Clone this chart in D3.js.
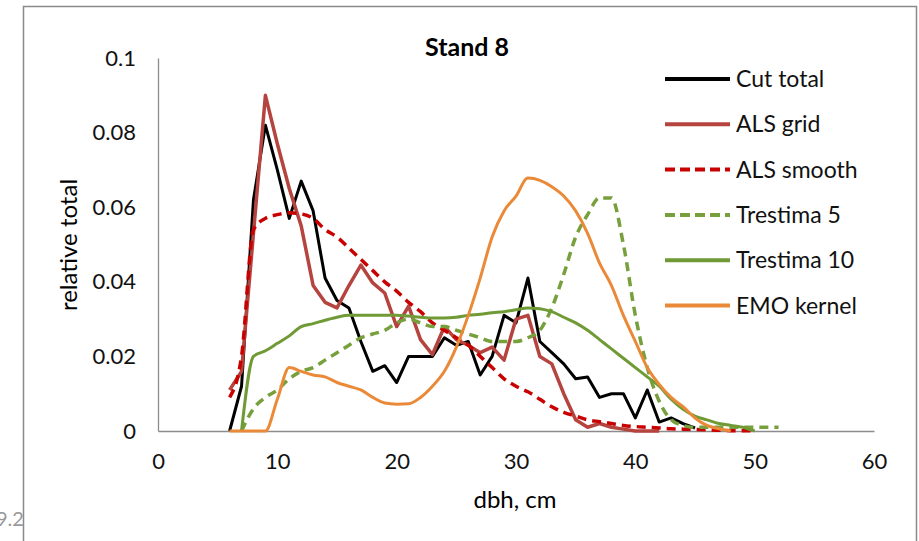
<!DOCTYPE html>
<html lang="en">
<head>
    <meta charset="UTF-8">
    <title>Stand 8</title>
    <script src="https://d3js.org/d3.v7.min.js"></script>
    <style>
        body { margin: 0; background: #fff; }
        svg { display: block; font-family: Lato, 'Open Sans', sans-serif; }
    </style>
</head>
<body>
    <svg id="chart" width="919" height="541"></svg>
    <script>
        // values read per 1 cm dbh class, first value at the given start dbh
        const cutTotalStart = 6;
        const cutTotal = [0, 0.012, 0.062, 0.082, 0.07, 0.057, 0.067, 0.059, 0.041, 0.035,
            0.033, 0.024, 0.016, 0.0175, 0.013, 0.02, 0.02, 0.02, 0.025, 0.023,
            0.024, 0.015, 0.02, 0.031, 0.029, 0.041, 0.024, 0.021, 0.018, 0.014,
            0.0145, 0.009, 0.01, 0.01, 0.0035, 0.011, 0.0024, 0.0035, 0.002, 0.0008];

        const alsGridStart = 6;
        const alsGrid = [0.011, 0.016, 0.053, 0.09, 0.077, 0.065, 0.055, 0.039, 0.0345, 0.033,
            0.039, 0.0445, 0.0397, 0.037, 0.028, 0.0335, 0.0245, 0.0205, 0.028, 0.0245,
            0.023, 0.021, 0.0225, 0.019, 0.03, 0.031, 0.02, 0.018, 0.01, 0.003,
            0.001, 0.002, 0.001, 0.0005, 0, 0, 0];

        const alsSmoothStart = 6;
        const alsSmooth = [0.009, 0.02, 0.054, 0.057, 0.058, 0.0585, 0.0582, 0.057, 0.054, 0.052,
            0.049, 0.046, 0.043, 0.04, 0.0375, 0.0345, 0.032, 0.029, 0.027, 0.025,
            0.023, 0.02, 0.017, 0.014, 0.012, 0.0105, 0.0085, 0.0065, 0.005, 0.004,
            0.003, 0.0025, 0.002, 0.0015, 0.0012, 0.001, 0.0008, 0.0006, 0.0005, 0.0004,
            0.0003, 0.0002, 0.0001, 0.0001, 0];

        const trestima5Start = 7;
        const trestima5 = [0, 0.006, 0.009, 0.011, 0.014, 0.016, 0.017, 0.019, 0.021, 0.023,
            0.025, 0.026, 0.027, 0.029, 0.03, 0.029, 0.028, 0.028, 0.027, 0.026,
            0.025, 0.024, 0.024, 0.024, 0.025, 0.027, 0.033, 0.042, 0.052, 0.058,
            0.0625, 0.0625, 0.05, 0.031, 0.017, 0.008, 0.003, 0.0015, 0.001, 0.001,
            0.001, 0.001, 0.001, 0.001, 0.001, 0.001];

        const trestima10Start = 7;
        const trestima10 = [0, 0.02, 0.0215, 0.0235, 0.0255, 0.028, 0.0288, 0.0297, 0.0305, 0.031,
            0.031, 0.031, 0.031, 0.031, 0.0308, 0.0305, 0.0303, 0.0303, 0.0305, 0.031,
            0.0313, 0.0317, 0.032, 0.0325, 0.033, 0.0328, 0.032, 0.0305, 0.029, 0.027,
            0.0245, 0.022, 0.0195, 0.017, 0.0145, 0.012, 0.0085, 0.0058, 0.004, 0.003,
            0.002, 0.0015, 0.001, 0];

        const emoKernelStart = 6;
        const emoKernel = [0, 0, 0, 0, 0.0085, 0.017, 0.016, 0.015, 0.0145, 0.013,
            0.012, 0.011, 0.009, 0.0075, 0.0072, 0.0073, 0.009, 0.012, 0.016, 0.0225,
            0.031, 0.041, 0.052, 0.059, 0.063, 0.0678, 0.0672, 0.0655, 0.063, 0.059,
            0.053, 0.045, 0.039, 0.031, 0.024, 0.017, 0.0125, 0.009, 0.0065, 0.0035,
            0.0015, 0.0006, 0];

        const xTicks = [0, 10, 20, 30, 40, 50, 60];
        const yTicks = [0, 0.02, 0.04, 0.06, 0.08, 0.1];

        const series = [
            { name: "Cut total", start: cutTotalStart, values: cutTotal, color: "#000000", dash: null, width: 3, smooth: false },
            { name: "ALS grid", start: alsGridStart, values: alsGrid, color: "#b5443f", dash: null, width: 3.5, smooth: false },
            { name: "ALS smooth", start: alsSmoothStart, values: alsSmooth, color: "#c80000", dash: "9,6", width: 3.5, smooth: true },
            { name: "Trestima 5", start: trestima5Start, values: trestima5, color: "#77a03c", dash: "9,6", width: 3.5, smooth: true },
            { name: "Trestima 10", start: trestima10Start, values: trestima10, color: "#6f9a35", dash: null, width: 3, smooth: true },
            { name: "EMO kernel", start: emoKernelStart, values: emoKernel, color: "#ea8a38", dash: null, width: 3, smooth: true }
        ];

        const svg = d3.select("#chart");

        // stray label from the slide behind the chart frame
        svg.append("text")
            .attr("x", -4)
            .attr("y", 526)
            .attr("fill", "#999")
            .attr("font-size", 20)
            .text("9.2");

        svg.append("rect")
            .attr("x", 23.5)
            .attr("y", 6.5)
            .attr("width", 893)
            .attr("height", 600)
            .attr("fill", "#fff")
            .attr("stroke", "#8a8a8a")
            .attr("stroke-width", 1.5);

        const x = d3.scaleLinear().domain([0, 60]).range([158, 874]);
        const y = d3.scaleLinear().domain([0, 0.1]).range([431, 58]);

        // axes
        const xAxis = svg.append("g")
            .attr("transform", `translate(0,${y(0)})`)
            .call(d3.axisBottom(x).tickValues(xTicks).tickSize(0).tickPadding(22).tickFormat(d3.format("d")));
        const yAxis = svg.append("g")
            .attr("transform", `translate(${x(0)},0)`)
            .call(d3.axisLeft(y).tickValues(yTicks).tickSize(0).tickPadding(22).tickFormat(d => d === 0 ? "0" : String(+d.toFixed(2))));

        [xAxis, yAxis].forEach(g => {
            g.select(".domain").attr("stroke", "#8c8c8c").attr("stroke-width", 1.3);
            g.selectAll("text")
                .attr("font-family", "Lato, 'Open Sans', sans-serif")
                .attr("font-size", 22)
                .attr("fill", "#111");
        });

        const plot = svg.append("g");
        series.forEach(s => {
            const line = d3.line()
                .x((d, i) => x(s.start + i))
                .y(d => y(d))
                .curve(s.smooth ? d3.curveMonotoneX : d3.curveLinear);
            plot.append("path")
                .datum(s.values)
                .attr("d", line)
                .attr("fill", "none")
                .attr("stroke", s.color)
                .attr("stroke-width", s.width)
                .attr("stroke-dasharray", s.dash)
                .attr("stroke-linejoin", "round");
        });

        // title and axis labels
        svg.append("text")
            .attr("x", 467)
            .attr("y", 56)
            .attr("text-anchor", "middle")
            .attr("font-size", 25)
            .attr("font-weight", "bold")
            .text("Stand 8");

        svg.append("text")
            .attr("x", 515)
            .attr("y", 508)
            .attr("text-anchor", "middle")
            .attr("font-size", 24)
            .text("dbh, cm");

        svg.append("text")
            .attr("transform", "translate(77,245) rotate(-90)")
            .attr("text-anchor", "middle")
            .attr("font-size", 24)
            .text("relative total");

        // legend
        const legend = svg.append("g").attr("transform", "translate(665,79)");
        const items = legend.selectAll("g")
            .data(series)
            .join("g")
            .attr("transform", (d, i) => `translate(0,${i * 45.3})`);

        items.append("line")
            .attr("x1", 0)
            .attr("x2", 65)
            .attr("stroke", d => d.color)
            .attr("stroke-width", 4)
            .attr("stroke-dasharray", d => d.dash ? "10,5" : null);

        items.append("text")
            .attr("x", 71)
            .attr("y", 8)
            .attr("font-size", 23)
            .attr("fill", "#111")
            .text(d => d.name);
    </script>
</body>
</html>
